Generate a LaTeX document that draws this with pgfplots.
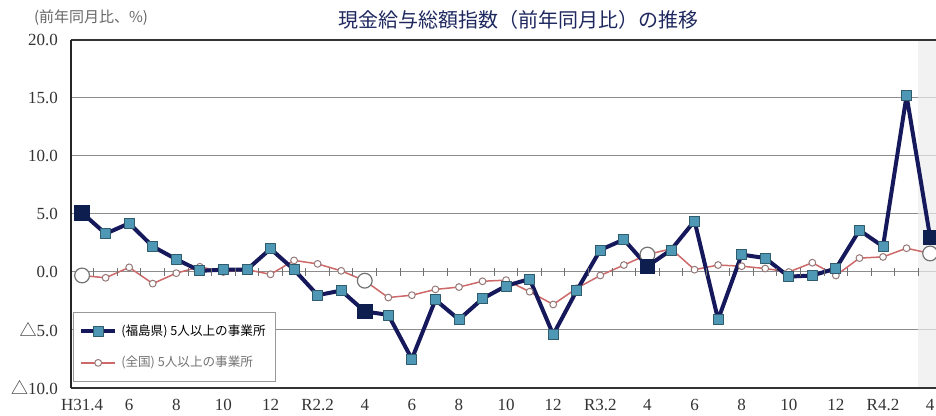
\documentclass[border=0pt]{standalone}
\usepackage{pgfplots}
\pgfplotsset{compat=1.18}
\usepackage{fontspec}
\setmainfont{Liberation Serif}
\newfontfamily\cjk{Noto Sans CJK JP}
\definecolor{navy}{RGB}{22,24,92}
\definecolor{sqfill}{RGB}{78,152,182}
\definecolor{aprfill}{RGB}{14,30,78}
\definecolor{natline}{RGB}{205,105,105}
\definecolor{natmark}{RGB}{150,120,120}
\definecolor{gridc}{RGB}{140,140,140}
\definecolor{titlec}{RGB}{30,40,95}
\begin{document}
\begin{tikzpicture}
\useasboundingbox (-35.5pt,-14pt) rectangle (432.5pt,194pt);
\begin{axis}[
  at={(0pt,0pt)}, anchor=south west,
  scale only axis, width=432.5pt, height=174pt,
  xmin=-0.47, xmax=36.25, ymin=-10, ymax=20,
  clip=false,
  axis line style={draw=none},
  xtick={0,2,...,36},
  xticklabels={H31.4,6,8,10,12,R2.2,4,6,8,10,12,R3.2,4,6,8,10,12,R4.2,4},
  ytick={-10,-5,0,5,10,15,20},
  yticklabels={{\cjk △}10.0,{\cjk △}5.0,0.0,5.0,10.0,15.0,20.0},
  tick style={draw=none},
  ticklabel style={font=\fontsize{8.5}{10}\selectfont, text=black!80},
  yticklabel style={xshift=-3pt},
  xticklabel style={yshift=-2pt},
  ymajorgrids, grid style={gridc, line width=0.5pt},
  legend style={at={(0.002,0.017)}, anchor=south west, draw=gray!80, fill=white,
    font=\cjk\fontsize{6.3}{7.5}\selectfont, row sep=5pt, inner xsep=3pt, inner ysep=4pt},
  legend cell align=left,
  reverse legend,
]
% latest-month shading
\addplot[fill=gray!15, draw=none, fill opacity=0.7, forget plot]
  coordinates {(35.5,-10) (36.25,-10) (36.25,20) (35.5,20)} -- cycle;
% month ticks on the zero line
\addplot[only marks, mark=|, mark size=1.8pt, mark options={gridc!80!black, line width=0.5pt}, forget plot]
  coordinates {(0.5,0)(1.5,0)(2.5,0)(3.5,0)(4.5,0)(5.5,0)(6.5,0)(7.5,0)(8.5,0)(9.5,0)
  (10.5,0)(11.5,0)(12.5,0)(13.5,0)(14.5,0)(15.5,0)(16.5,0)(17.5,0)(18.5,0)(19.5,0)
  (20.5,0)(21.5,0)(22.5,0)(23.5,0)(24.5,0)(25.5,0)(26.5,0)(27.5,0)(28.5,0)(29.5,0)
  (30.5,0)(31.5,0)(32.5,0)(33.5,0)(34.5,0)(35.5,0)};
% national
\addplot[natline, line width=0.75pt, line join=round, mark=*, mark size=1.7pt,
  mark options={fill=white, draw=natmark, line width=0.5pt}]
  coordinates {(0,-0.3)(1,-0.5)(2,0.4)(3,-1.0)(4,-0.1)(5,0.45)(6,0.0)(7,0.2)(8,-0.2)(9,1.0)
  (10,0.7)(11,0.1)(12,-0.75)(13,-2.2)(14,-2.0)(15,-1.5)(16,-1.3)(17,-0.8)(18,-0.7)(19,-1.7)
  (20,-2.8)(21,-1.4)(22,-0.3)(23,0.6)(24,1.5)(25,2.0)(26,0.2)(27,0.6)(28,0.5)(29,0.3)
  (30,0.0)(31,0.8)(32,-0.3)(33,1.2)(34,1.3)(35,2.05)(36,1.6)};
\addlegendentry{\textcolor{black!55}{(全国) 5人以上の事業所}}
\addplot[only marks, mark=*, mark size=3.7pt, mark options={fill=white, draw=gray!90!black, line width=0.6pt}, forget plot]
  coordinates {(0,-0.3)(12,-0.75)(24,1.5)(36,1.6)};
% Fukushima
\addplot[navy, line width=2pt, line join=round, mark=square*, mark size=2.5pt,
  mark options={fill=sqfill, draw=sqfill!60!black, line width=0.4pt}]
  coordinates {(0,5.1)(1,3.3)(2,4.2)(3,2.2)(4,1.1)(5,0.1)(6,0.2)(7,0.2)(8,2.0)(9,0.2)
  (10,-2.0)(11,-1.6)(12,-3.4)(13,-3.7)(14,-7.5)(15,-2.4)(16,-4.1)(17,-2.3)(18,-1.2)(19,-0.6)
  (20,-5.4)(21,-1.6)(22,1.9)(23,2.8)(24,0.5)(25,1.9)(26,4.4)(27,-4.1)(28,1.5)(29,1.2)
  (30,-0.4)(31,-0.3)(32,0.3)(33,3.6)(34,2.2)(35,15.2)(36,3.0)};
\addlegendentry{\textcolor{black}{(福島県) 5人以上の事業所}}
\addplot[only marks, mark=square*, mark size=3.6pt, mark options={fill=aprfill, draw=aprfill, line width=0.4pt}, forget plot]
  coordinates {(0,5.1)(12,-3.4)(24,0.5)(36,3.0)};
% frame
\draw[black!80, line width=1.3pt] (axis cs:-0.47,20) -- (axis cs:36.25,20);
\draw[black!80, line width=1.3pt] (axis cs:-0.47,-10) -- (axis cs:36.25,-10);
\draw[black!85, line width=1pt] (axis cs:-0.47,-10) -- (axis cs:-0.47,20);
\end{axis}
\node[font=\cjk\fontsize{10}{12}\selectfont, text=titlec] at (223.5pt,184pt) {現金給与総額指数（前年同月比）の推移};
\node[font=\cjk\fontsize{7.5}{9}\selectfont, text=black!60] at (10pt,185pt) {(前年同月比、\%)};
\end{tikzpicture}
\end{document}
